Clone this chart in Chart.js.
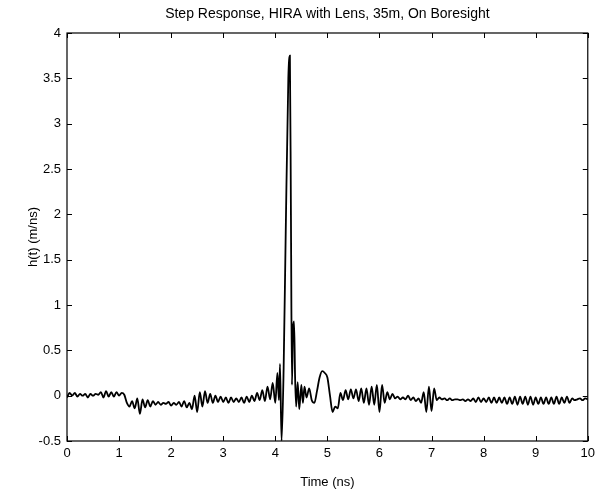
<!DOCTYPE html>
<html>
<head>
<meta charset="utf-8">
<script src="https://cdn.jsdelivr.net/npm/chart.js@4.4.1/dist/chart.umd.min.js"></script>
<style>
  html, body { margin: 0; padding: 0; background: #ffffff; }
  #wrap { width: 600px; height: 490px; }
</style>
</head>
<body>
<div id="wrap"><canvas id="c" width="600" height="490"></canvas></div>
<script>
const chartTitle = 'Step Response, HIRA with Lens, 35m, On Boresight';
const xAxisLabel = 'Time (ns)';
const yAxisLabel = 'h(t) (m/ns)';
const xTicks = [0, 1, 2, 3, 4, 5, 6, 7, 8, 9, 10];
const yTicks = [-0.5, 0, 0.5, 1, 1.5, 2, 2.5, 3, 3.5, 4];
const yTickLabels = ['-0.5', '0', '0.5', '1', '1.5', '2', '2.5', '3', '3.5', '4'];

const timeNs = [
  0, 0.05, 0.1, 0.15, 0.2, 0.25, 0.3, 0.35, 0.4, 0.45,
  0.5, 0.55, 0.6, 0.65, 0.7, 0.75, 0.8, 0.85, 0.9, 0.95,
  1.0, 1.05, 1.1, 1.15, 1.2, 1.25, 1.3, 1.35, 1.4, 1.45,
  1.5, 1.55, 1.6, 1.65, 1.7, 1.75, 1.8, 1.85, 1.9, 1.95,
  2.0, 2.05, 2.1, 2.15, 2.2, 2.25, 2.3, 2.35, 2.4, 2.45,
  2.5, 2.55, 2.6, 2.65, 2.7, 2.75, 2.8, 2.85, 2.9, 2.95,
  3.0, 3.05, 3.1, 3.15, 3.2, 3.25, 3.3, 3.35, 3.4, 3.45,
  3.5, 3.55, 3.6, 3.65, 3.7, 3.75, 3.8, 3.85, 3.9, 3.95,
  4.0, 4.04, 4.07, 4.09, 4.12, 4.16, 4.2, 4.25, 4.28, 4.3,
  4.32, 4.34, 4.36, 4.38, 4.4, 4.43, 4.46, 4.5, 4.53, 4.56,
  4.6, 4.65, 4.7, 4.75, 4.8, 4.85, 4.9, 4.95,
  5.0, 5.05, 5.1, 5.15, 5.2, 5.25, 5.3, 5.35, 5.4, 5.45,
  5.5, 5.55, 5.6, 5.65, 5.7, 5.75, 5.8, 5.85, 5.9, 5.95,
  6.0, 6.05, 6.1, 6.15, 6.2, 6.25, 6.3, 6.35, 6.4, 6.45,
  6.5, 6.55, 6.6, 6.65, 6.7, 6.75, 6.8, 6.85, 6.9, 6.95,
  7.0, 7.05, 7.1, 7.15, 7.2, 7.25, 7.3, 7.35, 7.4, 7.45,
  7.5, 7.55, 7.6, 7.65, 7.7, 7.75, 7.8, 7.85, 7.9, 7.95,
  8.0, 8.05, 8.1, 8.15, 8.2, 8.25, 8.3, 8.35, 8.4, 8.45,
  8.5, 8.55, 8.6, 8.65, 8.7, 8.75, 8.8, 8.85, 8.9, 8.95,
  9.0, 9.05, 9.1, 9.15, 9.2, 9.25, 9.3, 9.35, 9.4, 9.45,
  9.5, 9.55, 9.6, 9.65, 9.7, 9.75, 9.8, 9.85, 9.9, 9.95,
  10.0
];

const stepResponse = [
  -0.02, 0.03, 0.0, 0.03, -0.01, 0.02, 0.0, 0.02, -0.02, 0.02,
  0.0, 0.02, 0.01, 0.04, -0.02, 0.05, -0.01, 0.04, -0.01, 0.04,
  0.0, 0.03, 0.01, -0.08, -0.12, -0.06, -0.14, -0.03, -0.2, -0.04,
  -0.13, -0.05, -0.12, -0.06, -0.1, -0.07, -0.1, -0.08, -0.09, -0.07,
  -0.11, -0.08, -0.1, -0.07, -0.12, -0.06, -0.13, -0.08, -0.15, 0.0,
  -0.18, 0.04, -0.12, 0.05, -0.08, 0.02, -0.08, 0.0, -0.07, -0.01,
  -0.07, -0.02, -0.08, -0.02, -0.07, -0.03, -0.07, -0.02, -0.08, -0.01,
  -0.07, 0.0, -0.06, 0.03, -0.05, 0.06, -0.06, 0.1, -0.04, 0.14,
  -0.08, 0.25, -0.05, 0.35, -0.5, 0.3, 1.8, 3.5, 3.75, 2.0,
  0.12, 0.75, 0.82, 0.2, -0.12, 0.15, -0.15, 0.12, -0.08, 0.1,
  -0.02, 0.08, -0.05, -0.08, 0.05, 0.2, 0.27, 0.25,
  0.2, 0.0, -0.18, -0.12, -0.14, 0.03, -0.05, 0.06, -0.04, 0.07,
  -0.03, 0.07, -0.06, 0.08, -0.08, 0.08, -0.1, 0.1, -0.1, 0.12,
  -0.18, 0.12, -0.08, 0.04, -0.04, 0.02, -0.03, -0.01, -0.04, -0.02,
  -0.04, 0.0, -0.05, -0.02, -0.06, -0.03, -0.08, 0.04, -0.18, 0.1,
  -0.17, 0.08, -0.05, -0.02, -0.04, -0.03, -0.05, -0.03, -0.05, -0.04,
  -0.04, -0.05, -0.04, -0.06, -0.04, -0.06, -0.03, -0.07, -0.02, -0.07,
  -0.03, -0.07, -0.02, -0.08, -0.02, -0.08, -0.02, -0.08, -0.02, -0.09,
  -0.02, -0.09, -0.01, -0.1, -0.01, -0.09, -0.01, -0.1, -0.01, -0.1,
  -0.02, -0.09, -0.02, -0.09, -0.02, -0.09, -0.02, -0.09, -0.01, -0.09,
  -0.02, -0.08, -0.01, -0.08, -0.03, -0.05, -0.04, -0.03, -0.05, -0.03,
  -0.04
];

const points = timeNs.map((t, i) => ({ x: t, y: stepResponse[i] }));

const FONT = '"Liberation Sans", Arial, sans-serif';

// Draws the full box and the inward tick marks (MATLAB style) from the scales.
const boxTicks = {
  id: 'boxTicks',
  afterDatasetsDraw(chart) {
    const { ctx, chartArea: a, scales } = chart;
    ctx.save();
    ctx.strokeStyle = '#000';
    ctx.lineWidth = 1.2;
    ctx.strokeRect(a.left, a.top, a.right - a.left, a.bottom - a.top);
    ctx.lineWidth = 1;
    const L = 5;
    ctx.beginPath();
    xTicks.forEach(v => {
      const px = Math.round(scales.x.getPixelForValue(v)) + 0.5;
      ctx.moveTo(px, a.bottom); ctx.lineTo(px, a.bottom - L);
      ctx.moveTo(px, a.top); ctx.lineTo(px, a.top + L);
    });
    yTicks.forEach(v => {
      const py = Math.round(scales.y.getPixelForValue(v)) + 0.5;
      ctx.moveTo(a.left, py); ctx.lineTo(a.left + L, py);
      ctx.moveTo(a.right, py); ctx.lineTo(a.right - L, py);
    });
    ctx.stroke();
    ctx.restore();
  }
};

new Chart(document.getElementById('c'), {
  type: 'line',
  data: {
    datasets: [{
      label: 'h(t)',
      data: points,
      borderColor: '#000000',
      borderWidth: 1.8,
      pointRadius: 0,
      cubicInterpolationMode: 'monotone',
      fill: false
    }]
  },
  options: {
    responsive: false,
    animation: false,
    devicePixelRatio: 1,
    layout: { padding: { left: 20, right: 10, top: 0, bottom: 0 } },
    plugins: {
      legend: { display: false },
      tooltip: { enabled: false },
      title: {
        display: true,
        text: chartTitle,
        fullSize: false,
        color: '#000',
        font: { family: FONT, size: 14, weight: 'normal', lineHeight: 1.2 },
        padding: { top: 6, bottom: 10.2 }
      }
    },
    scales: {
      x: {
        type: 'linear',
        min: 0, max: 10,
        afterBuildTicks(scale) { scale.ticks = xTicks.map(v => ({ value: v })); },
        afterFit(scale) { scale.height = 49; },
        grid: { display: false, drawTicks: false },
        border: { display: false },
        ticks: {
          color: '#000',
          padding: 5,
          maxRotation: 0,
          font: { family: FONT, size: 13 },
          callback: v => String(v)
        },
        title: {
          display: true,
          text: xAxisLabel,
          color: '#000',
          font: { family: FONT, size: 13 },
          padding: { top: 3, bottom: 0 }
        }
      },
      y: {
        type: 'linear',
        min: -0.5, max: 4,
        afterBuildTicks(scale) { scale.ticks = yTicks.map(v => ({ value: v })); },
        afterFit(scale) { scale.width = 47; },
        grid: { display: false, drawTicks: false },
        border: { display: false },
        ticks: {
          color: '#000',
          padding: 6,
          font: { family: FONT, size: 13 },
          callback: v => yTickLabels[yTicks.indexOf(v)]
        },
        title: {
          display: true,
          text: yAxisLabel,
          color: '#000',
          font: { family: FONT, size: 13 },
          padding: { top: 6, bottom: 0 }
        }
      }
    }
  },
  plugins: [boxTicks]
});
</script>
</body>
</html>
